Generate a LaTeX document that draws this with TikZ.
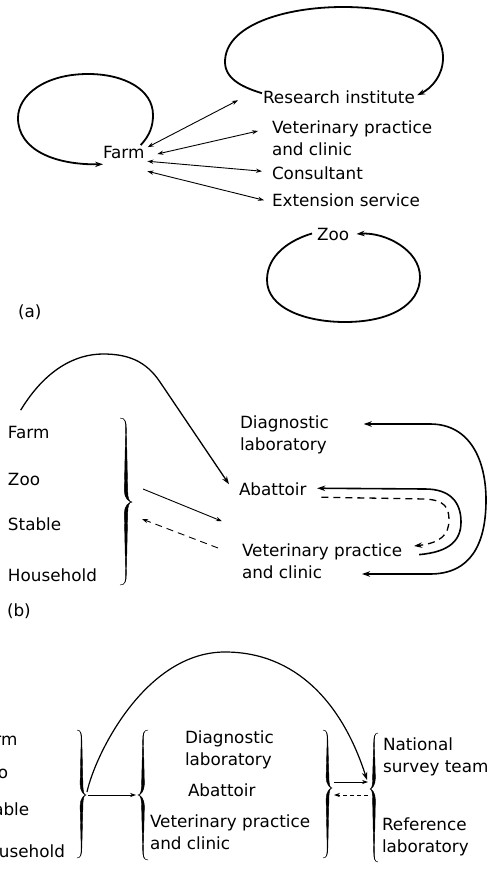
\documentclass[tikz,border=0pt]{standalone}
\usepackage{fontspec}
\setmainfont{DejaVu Sans}
\usetikzlibrary{arrows.meta}
\newcommand{\lblfont}{\fontsize{16.8}{22}\selectfont}
\newcommand{\twol}[2]{\begin{tabular}[t]{@{}l@{}}#1\\#2\end{tabular}}
% printed-style brace: x0, ytop, ytip, ybot, signed amplitude, half thickness at middle
\newcommand{\pbrace}[6]{%
 \filldraw[line width=0.4pt] ({#1},{#2})
  .. controls ({#1+0.45*(#5)},{#2}) and ({#1+0.5*(#5)-0.35},{#2+4}) .. ({#1+0.5*(#5)-0.35},{#2+11})
  -- ({#1+0.5*(#5)-#6},{#3-11})
  .. controls ({#1+0.5*(#5)-#6},{#3-4}) and ({#1+0.75*(#5)},{#3}) .. ({#1+(#5)},{#3})
  .. controls ({#1+0.75*(#5)},{#3}) and ({#1+0.5*(#5)-#6},{#3+4}) .. ({#1+0.5*(#5)-#6},{#3+11})
  -- ({#1+0.5*(#5)-0.35},{#4-11})
  .. controls ({#1+0.5*(#5)-0.35},{#4-4}) and ({#1+0.45*(#5)},{#4}) .. ({#1},{#4})
  .. controls ({#1+0.45*(#5)},{#4}) and ({#1+0.5*(#5)+0.35},{#4-4}) .. ({#1+0.5*(#5)+0.35},{#4-11})
  -- ({#1+0.5*(#5)+#6},{#3+11})
  .. controls ({#1+0.5*(#5)+#6},{#3+4}) and ({#1+0.75*(#5)},{#3}) .. ({#1+(#5)},{#3})
  .. controls ({#1+0.75*(#5)},{#3}) and ({#1+0.5*(#5)+#6},{#3-4}) .. ({#1+0.5*(#5)+#6},{#3-11})
  -- ({#1+0.5*(#5)+0.35},{#2+11})
  .. controls ({#1+0.5*(#5)+0.35},{#2+4}) and ({#1+0.45*(#5)},{#2}) .. ({#1},{#2}) -- cycle;
}
\tikzset{
 lbl/.style={anchor=base west, inner sep=0pt, outer sep=0pt, font=\lblfont},
 dbl/.style={line width=0.9pt, arrows={Stealth[length=6pt,width=4.2pt]-Stealth[length=6pt,width=4.2pt]}},
 sgl/.style={line width=0.9pt, arrows={-Stealth[length=6pt,width=4.2pt]}},
 loopa/.style={line width=1.8pt, arrows={-Stealth[length=8pt,width=5.5pt]}},
 bigcurve/.style={line width=1.3pt, arrows={-Stealth[length=8pt,width=5.5pt]}},
 rloop/.style={line width=1.6pt},
 rtip/.style={arrows={-Stealth[length=8pt,width=5.5pt]}},
 rdbl/.style={arrows={Stealth[length=8pt,width=5.5pt]-Stealth[length=8pt,width=5.5pt]}},
 dsh/.style={dash pattern=on 7pt off 5pt},
}
\begin{document}
\begin{tikzpicture}[x=1pt,y=-1pt]
\fill[white] (0,0) rectangle (488,896);
\useasboundingbox (0,0) rectangle (488,896);

% ---------------- (a) ----------------
\node[lbl] (farm) at (103,159) {Farm};
\node[lbl] (ri) at (263,104) {Research institute};
\node[lbl] (vet) at (272,134) {\twol{Veterinary practice}{and clinic}};
\node[lbl] (cons) at (272,179) {Consultant};
\node[lbl] (ext) at (272,207) {Extension service};
\node[lbl] (zoo) at (317,240) {Zoo};
\node[lbl] (la) at (18,317) {(a)};

\draw[loopa] ([shift={(-3.7,-1.6)}]farm.north east) .. controls (150,135) and (153,126) .. (153,115)
  .. controls (153,90) and (125,74) .. (88,74) .. controls (45,74) and (18,95) .. (18,118)
  .. controls (18,150) and (55,165) .. ([shift={(0,5)}]farm.south west);
\draw[loopa] ([shift={(-1,2)}]ri.north west) .. controls (245,88) and (225,80) .. (225,62)
  .. controls (225,25) and (285,7) .. (343,7) .. controls (405,7) and (443,25) .. (443,58)
  .. controls (443,75) and (432,88) .. ([shift={(2.2,4)}]ri.north east);
\draw[loopa] ([shift={(-5,-0.5)}]zoo.west) .. controls (290,240) and (267,255) .. (267,280)
  .. controls (267,308) and (305,322) .. (345,322) .. controls (390,322) and (420,305) .. (420,277)
  .. controls (420,250) and (385,232) .. ([shift={(7.5,0)}]zoo.east);

\draw[dbl] ([shift={(3.3,0.4)}]farm.north east) -- ([shift={(-25,2.5)}]ri.west);
\draw[dbl] ([shift={(13,1)}]farm.east) -- ([shift={(-14,-9.6)}]vet.west);
\draw[dbl] ([shift={(3,2)}]farm.south east) -- ([shift={(-10,-1.5)}]cons.west);
\draw[dbl] ([shift={(3,12)}]farm.south east) -- ([shift={(-8,-0.5)}]ext.west);

% ---------------- (b) ----------------
\node[lbl] (bfarm) at (8,438) {Farm};
\node[lbl] (bzoo) at (8,485) {Zoo};
\node[lbl] (bstable) at (8,530) {Stable};
\node[lbl] (bhouse) at (8,581) {Household};
\node[lbl] (bdiag) at (240,428) {\twol{Diagnostic}{laboratory}};
\node[lbl] (babat) at (239,495) {Abattoir};
\node[lbl] (bvet) at (242,556) {\twol{Veterinary practice}{and clinic}};
\node[lbl] (lb) at (7,616) {(b)};

\pbrace{120}{418}{502}{585}{12}{1.7}
\coordinate (btip) at (132,502);

\draw[bigcurve] ([shift={(-8,-15.6)}]bfarm.north) .. controls (45,370) and (75,354) .. (103,354)
  .. controls (128,354) and (146,361) .. (160,382) -- ([shift={(-10,-4.5)}]babat.west);
\draw[sgl] ([shift={(11,-13)}]btip) -- ([shift={(-17,26)}]babat.south west);
\draw[sgl, dsh] ([shift={(-24,7.4)}]bvet.north west) -- ([shift={(10,17)}]btip);

\draw[rloop, rdbl] ([shift={(35,-10.6)}]bdiag.east) -- (430,424)
  .. controls (470,424) and (486,460) .. (486,500) .. controls (486,545) and (470,574) .. (430,574)
  -- ([shift={(120,-10.6)}]bvet.south west);
\draw[rloop, rtip] ([shift={(17,14)}]bvet.north east) .. controls (450,552) and (461,540) .. (461,522)
  .. controls (461,502) and (450,489) .. (425,489) -- ([shift={(10.7,-0.5)}]babat.east);
\draw[line width=1.3pt, rtip, dsh] ([shift={(15,2)}]babat.south east) -- (425,499)
  .. controls (445,500) and (449,508) .. (449,520) .. controls (449,535) and (440,543)
  .. ([shift={(12,5.4)}]bvet.north east);

% ---------------- (c) ----------------
\node[lbl] (cfarm) at (-24,745) {Farm};
\node[lbl] (czoo) at (-24,778) {Zoo};
\node[lbl] (cstable) at (-24,815) {Stable};
\node[lbl] (chouse) at (-24,857) {Household};
\node[lbl] (cdiag) at (185,743) {\twol{Diagnostic}{laboratory}};
\node[lbl] (cabat) at (188,796) {Abattoir};
\node[lbl] (cvet) at (150,827) {\twol{Veterinary practice}{and clinic}};
\node[lbl] (cnat) at (383,750) {\twol{National}{survey team}};
\node[lbl] (cref) at (382,830) {\twol{Reference}{laboratory}};

\pbrace{77}{730}{795}{858}{9}{1.4}
\pbrace{148}{730}{795}{860}{-10}{1.4}
\pbrace{323}{730}{788}{858}{9}{1.4}
\pbrace{378}{733}{789}{862}{-8}{1.4}
\coordinate (lbtip) at (86,795);
\coordinate (mlbtip) at (138,795);
\coordinate (mrbtip) at (332,788);
\coordinate (rbtip) at (370,789);

\draw[line width=1.2pt, rtip] ([shift={(1,-3)}]lbtip) .. controls (95,755) and (145,652) .. (225,652)
  .. controls (295,652) and (342,702) .. ([shift={(-3,-9)}]rbtip);
\draw[sgl] ([shift={(2,0)}]lbtip) -- ([shift={(-2,0)}]mlbtip);
\draw[sgl] ([shift={(2,-6)}]mrbtip) -- ([shift={(-2,-7)}]rbtip);
\draw[sgl, dash pattern=on 4pt off 3pt] ([shift={(-2,6)}]rbtip) -- ([shift={(2,7)}]mrbtip);
\end{tikzpicture}
\end{document}
